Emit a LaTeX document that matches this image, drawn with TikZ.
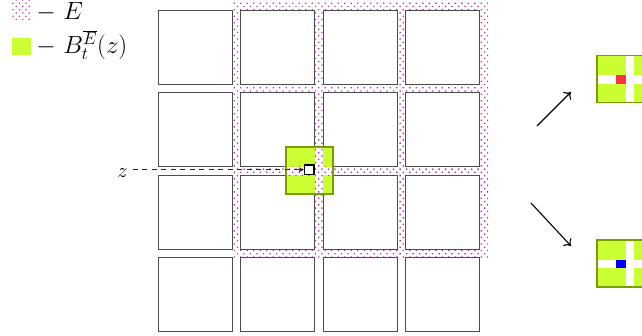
\documentclass[tikz,border=0pt]{standalone}
\usetikzlibrary{patterns.meta,arrows.meta}
\definecolor{limeg}{RGB}{204,255,51}
\definecolor{oliveb}{RGB}{122,158,0}
\definecolor{dotc}{RGB}{178,55,178}
\definecolor{redz}{RGB}{255,51,51}
\definecolor{bluez}{RGB}{0,0,255}
\tikzset{
  edots/.style={pattern={Dots[distance=4.6pt,angle=45,radius=0.95pt]},pattern color=dotc},
  cell/.style={draw=black!70,line width=1pt,fill=white,minimum size=74pt,inner sep=0pt,outer sep=0pt},
  ballbox/.style={fill=limeg,minimum size=47pt,inner sep=0pt,outer sep=0pt},
  ballborder/.style={draw=oliveb,line width=1.6pt},
  site/.style={draw=black,line width=1.5pt,fill=white,minimum size=9.5pt,inner sep=0pt,outer sep=0pt},
  lbl/.style={font=\huge,scale=1.2,inner sep=0pt},
  zlbl/.style={font=\huge,scale=1.0,inner sep=0pt},
  bigarrow/.style={line width=1.1pt,-{To[length=6pt,width=11pt]}},
  zline/.style={draw=black!85,line width=0.9pt,dash pattern=on 5pt off 4.5pt,-{Latex[length=5pt,width=5pt]}},
}
\begin{document}
\begin{tikzpicture}[x=1pt,y=-1pt]
\useasboundingbox (0,0) rectangle (642,335);
\clip (0,0) rectangle (642,335);
% region E
\fill[white] (232,1.5) rectangle (488,257.5);
\path[edots] (232,1.5) rectangle (488,257.5);
% grid of squares
\foreach \i/\x in {1/195,2/277.5,3/360,4/442.5}{
  \foreach \j/\y in {1/47,2/129.5,3/212,4/294.5}{
    \node[cell] (c\i\j) at (\x,\y) {};
  }
}
% ball B around z
\node[ballbox] (B) at (309.5,170.5) {};
\fill[white] (B.west |- 0,166.5) rectangle (B.east |- 0,175);
\path[edots] (B.west |- 0,166.5) rectangle (B.east |- 0,175);
\fill[white] (314.5,0 |- B.north) rectangle (323,0 |- B.south);
\path[edots] (314.5,0 |- B.north) rectangle (323,0 |- B.south);
\draw[ballborder] (B.north west) rectangle (B.south east);
\node[site] (z) at (309,169.8) {};
% label z and dashed arrow
\node[zlbl,anchor=base] (zl) at (122.5,177) {$z$};
\draw[zline,shorten <=5pt] (zl.east |- z.west) -- (z.west);
% legend
\node[edots,minimum width=20pt,minimum height=19pt,inner sep=0pt] (sE) at (21.5,9.5) {};
\node[lbl,anchor=base west] (tE) at (36.2,19) {$-$ $E$};
\node[fill=limeg,minimum width=19pt,minimum height=17.5pt,inner sep=0pt] (sB) at (21.5,46.5) {};
\node[lbl,anchor=base west] (tB) at (36.2,53.5) {$-$ $B_t^{\overline{E}}(z)$};
% right boxes
\node[ballbox] (R1) at (620.5,79) {};
\fill[white] (R1.west |- 0,75) rectangle (R1.east |- 0,83.5);
\fill[white] (625.5,0 |- R1.north) rectangle (634,0 |- R1.south);
\fill[redz] (616,75) rectangle (625.5,83.5);
\draw[ballborder] (R1.north west) rectangle (R1.south east);
\node[ballbox] (R2) at (620.5,263.5) {};
\fill[white] (R2.west |- 0,259.5) rectangle (R2.east |- 0,268);
\fill[white] (625.5,0 |- R2.north) rectangle (634,0 |- R2.south);
\fill[bluez] (616,259.5) rectangle (625.5,268);
\draw[ballborder] (R2.north west) rectangle (R2.south east);
% arrows
\coordinate (a1s) at (537,126);
\coordinate (a1e) at (571,92);
\coordinate (a2s) at (531,203);
\coordinate (a2e) at (571,246);
\draw[bigarrow] (a1s) -- (a1e);
\draw[bigarrow] (a2s) -- (a2e);
\end{tikzpicture}
\end{document}
